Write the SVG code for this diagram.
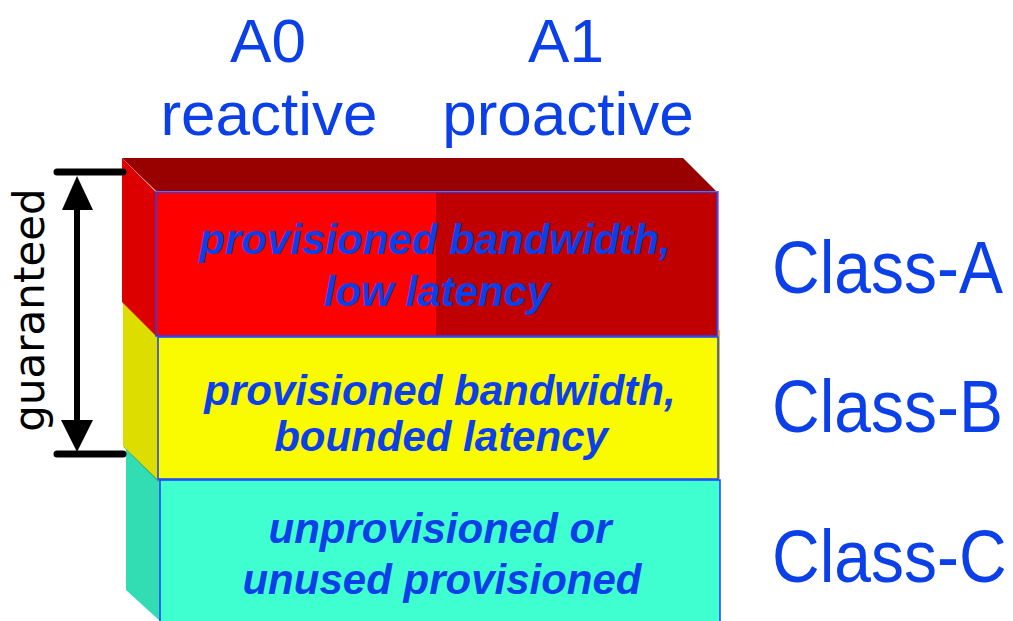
<svg xmlns="http://www.w3.org/2000/svg" width="1013" height="621" viewBox="0 0 1013 621">
<style>
.hdr{font-family:"Liberation Sans",Arial,sans-serif;font-size:62px;fill:#0B3FE8;text-anchor:middle}
.cls{font-family:"Liberation Sans",Arial,sans-serif;font-size:66px;fill:#0B3FE8}
.lbl{font-family:"Liberation Sans",Arial,sans-serif;font-size:42px;font-weight:bold;font-style:italic;fill:#0B3FE8;text-anchor:middle}
.front{stroke:#1A40FF;stroke-width:1.5}
.bar{stroke:#000;stroke-width:7;stroke-linecap:round}
</style>
<rect width="1013" height="621" fill="#fff"/>
<g id="headers">
<text class="hdr" x="268" y="62">A0</text>
<text class="hdr" x="269" y="135">reactive</text>
<text class="hdr" x="566" y="62">A1</text>
<text class="hdr" x="568" y="135">proactive</text>
</g>
<g id="classC">
<polygon points="126,447 160,481 160,621 126,590" fill="#33DDB3"/>
<line x1="124" y1="446" x2="159" y2="481" stroke="#2E9E84" stroke-width="2"/>
<rect class="front" x="160" y="480" width="560" height="150" fill="#3FFFD0"/>
<text class="lbl" x="440" y="543">unprovisioned or</text>
<text class="lbl" x="442" y="594">unused provisioned</text>
</g>
<g id="classB">
<polygon points="123,302 158,337 158,480 123,446" fill="#DDDD00"/>
<line x1="719" y1="330" x2="719" y2="479" stroke="#E0C000" stroke-width="2"/>
<rect class="front" x="158" y="337" width="560" height="142" fill="#FAFA00"/>
<text class="lbl" x="440" y="405">provisioned bandwidth,</text>
<text class="lbl" x="441" y="451">bounded latency</text>
</g>
<g id="classA">
<polygon points="122,158 683,158 716,191 156,191" fill="#990000"/>
<polygon points="122,158 156,192 156,336 122,302" fill="#DD0000"/>
<line x1="718" y1="191" x2="718" y2="336" stroke="#F07070" stroke-width="2"/>
<rect x="156" y="192" width="280" height="144" fill="#FF0000"/>
<rect x="436" y="192" width="281" height="144" fill="#C00000"/>
<rect class="front" x="156" y="192" width="561" height="144" fill="none"/>
<text class="lbl" x="435" y="254">provisioned bandwidth,</text>
<text class="lbl" x="437" y="306">low latency</text>
</g>
<g id="class-labels">
<text class="cls" transform="translate(772,293) scale(1,1.12)">Class-A</text>
<text class="cls" transform="translate(772,432) scale(1,1.12)">Class-B</text>
<text class="cls" transform="translate(772,582) scale(1,1.12)">Class-C</text>
</g>
<g id="connectors">
<line class="bar" x1="57" y1="172" x2="123" y2="172"/>
<line class="bar" x1="57" y1="454" x2="123" y2="454"/>
<line x1="77" y1="205" x2="77" y2="424" stroke="#000" stroke-width="6"/>
<polygon points="77,176 62,210 93,210" fill="#000"/>
<polygon points="77,452 61,420 93,420" fill="#000"/>
</g>
<g id="guaranteed-label">
<text x="0" y="0" transform="translate(44,310) rotate(-90)" font-family="DejaVu Sans,sans-serif" font-size="42" text-anchor="middle" fill="#000">guaranteed</text>
</g>
</svg>
